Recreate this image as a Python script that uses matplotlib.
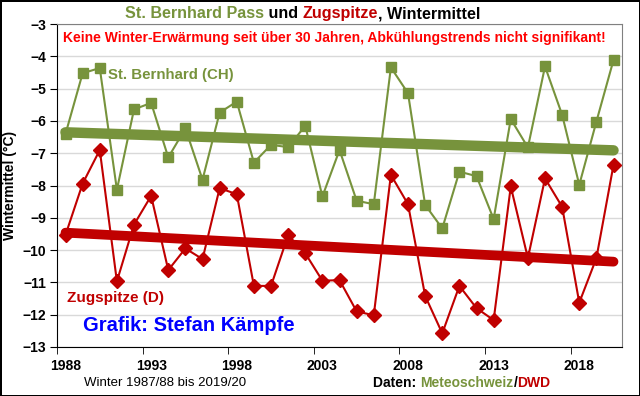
import numpy as np
import matplotlib
matplotlib.use("Agg")
import matplotlib.pyplot as plt

plt.rcParams['font.family'] = ['Liberation Sans', 'DejaVu Sans']

# Wintermittel (°C), Winter 1987/88 bis 2019/20
years = list(range(1988, 2021))
bernhard = [-6.40, -4.52, -4.36, -8.13, -5.64, -5.44, -7.13, -6.23, -7.82, -5.74,
            -5.40, -7.29, -6.74, -6.81, -6.15, -8.34, -6.90, -8.47, -8.58, -4.34,
            -5.14, -8.60, -9.33, -7.57, -7.71, -9.04, -5.94, -6.82, -4.31, -5.81,
            -7.98, -6.02, -4.11]
zugspitze = [-9.53, -7.94, -6.90, -10.97, -9.21, -8.32, -10.62, -9.95, -10.28, -8.08,
             -8.27, -11.11, -11.11, -9.54, -10.10, -10.95, -10.93, -11.90, -12.02, -7.67,
             -8.58, -11.42, -12.58, -11.11, -11.80, -12.17, -8.03, -10.25, -7.78, -8.66,
             -11.63, -10.25, -7.36]
tick_years = [1988, 1993, 1998, 2003, 2008, 2013, 2018]

green = '#77933C'
red = '#C00000'

fig = plt.figure(figsize=(6.4, 3.96), dpi=100, linewidth=2, edgecolor='black')
ax = fig.add_axes([0.089, 0.124, 0.883, 0.815])

x = np.array(years)
ax.plot(x, bernhard, color=green, lw=1.5, marker='s', ms=6.5, zorder=3)
ax.plot(x, zugspitze, color=red, lw=1.5, marker='D', ms=7, zorder=3)

# lineare Trends
for vals, col, w in [(bernhard, green, 7.5), (zugspitze, red, 7)]:
    k, d = np.polyfit(x, vals, 1)
    ax.plot([x[0], x[-1]], [k * x[0] + d, k * x[-1] + d], color=col, lw=w,
            solid_capstyle='round', zorder=4)

ax.set_xlim(1987.5, 2020.5)
ax.set_ylim(-13, -3)
ax.set_yticks(range(-13, -2))
ax.set_xticks(tick_years)
ax.set_xticks([t - 0.5 for t in tick_years], minor=True)
ax.tick_params(axis='x', which='major', length=0, pad=9)
ax.tick_params(axis='x', which='minor', length=5, direction='out')
ax.tick_params(axis='y', length=5, direction='out', pad=3)
for lab in ax.get_xticklabels() + ax.get_yticklabels():
    lab.set_fontweight('bold')
    lab.set_fontsize(10)
ax.grid(axis='y', color='#D9D9D9', lw=1)
ax.set_axisbelow(True)
for s in ['top', 'right']:
    ax.spines[s].set_color('#808080')
ax.spines['left'].set_color('black')
ax.spines['bottom'].set_color('black')
ax.set_ylabel('Wintermittel (°C)', fontsize=10, fontweight='bold', labelpad=4)

ax.text(2003.7, -3.43, 'Keine Winter-Erwärmung seit über 30 Jahren, Abkühlungstrends nicht signifikant!',
        color='#FF0000', fontsize=10, fontweight='bold', ha='center', va='center')
ax.text(1990.5, -4.58, 'St. Bernhard (CH)', color=green, fontsize=10.8, fontweight='bold', va='center')
ax.text(1988.1, -11.48, 'Zugspitze (D)', color=red, fontsize=11, fontweight='bold', va='center')
ax.text(1989.0, -12.35, 'Grafik: Stefan Kämpfe', color='#0000FF', fontsize=14.5, fontweight='bold', va='center')


def colored_line(parts, xc, y, size, weight):
    # Textstücke nebeneinander, zentriert um xc (Figurenkoordinaten)
    r = fig.canvas.get_renderer()
    items = []
    for s, c in parts:
        t = fig.text(0, y, s, color=c, fontsize=size, fontweight=weight, va='center')
        items.append(t)
    widths = [t.get_window_extent(r).width / fig.bbox.width for t in items]
    pos = xc - sum(widths) / 2
    for t, w in zip(items, widths):
        t.set_x(pos)
        pos += w


colored_line([('St. Bernhard Pass', green), (' und ', 'black'), ('Zugspitze', red),
              (', Wintermittel', 'black')], 0.473, 0.965, 11.6, 'bold')
fig.text(0.258, 0.033, 'Winter 1987/88 bis 2019/20', fontsize=9.5, ha='center', va='center')
colored_line([('Daten: ', 'black'), ('Meteoschweiz', green), ('/', 'black'), ('DWD', red)],
             0.722, 0.033, 10, 'bold')

fig.savefig('out.png', dpi=100, edgecolor=fig.get_edgecolor())
